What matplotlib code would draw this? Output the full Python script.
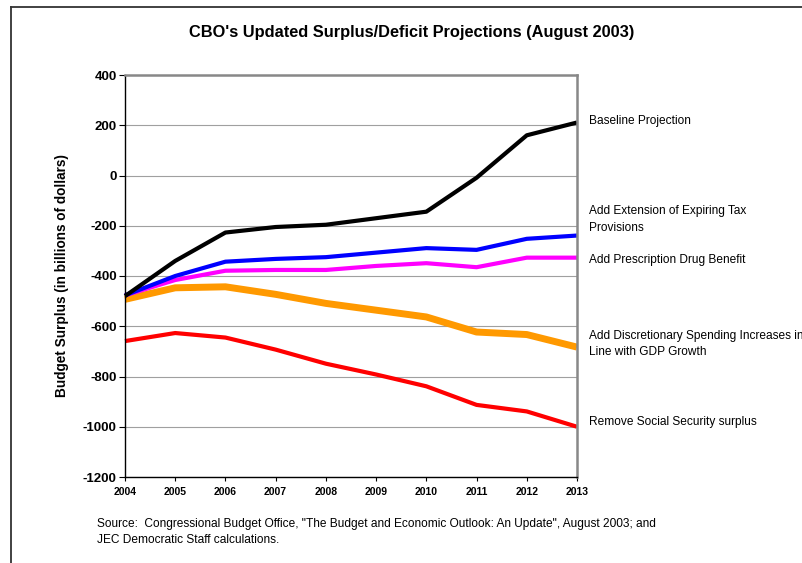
import matplotlib
matplotlib.use("Agg")
import matplotlib.pyplot as plt
import matplotlib.transforms as mtransforms

plt.rcParams['font.family'] = ['Liberation Sans', 'DejaVu Sans']

years = [2004, 2005, 2006, 2007, 2008, 2009, 2010, 2011, 2012, 2013]
baseline = [-480, -340, -227, -205, -196, -170, -144, -9, 160, 211]
tax_ext = [-477, -400, -343, -332, -325, -307, -289, -296, -252, -239]
drug = [-477, -416, -379, -376, -376, -360, -349, -365, -327, -327]
discretionary = [-493, -447, -443, -473, -509, -536, -563, -623, -633, -683]
social_sec = [-659, -627, -645, -693, -749, -792, -839, -913, -939, -1000]

series_labels = ["Baseline Projection",
                 "Add Extension of Expiring Tax\nProvisions",
                 "Add Prescription Drug Benefit",
                 "Add Discretionary Spending Increases in\nLine with GDP Growth",
                 "Remove Social Security surplus"]
label_y = [216, -176, -336, -670, -980]
y_ticks = [400, 200, 0, -200, -400, -600, -800, -1000, -1200]

W, H = 803, 563
fig = plt.figure(figsize=(W/100, H/100), dpi=100)
fig.patch.set_facecolor('white')

# outer border (extends off right/bottom)
fig.add_artist(plt.Line2D([11/W, 11/W], [0, 1 - 7/H], color='#333333', lw=1.3, transform=fig.transFigure))
fig.add_artist(plt.Line2D([11/W, 1], [1 - 7/H, 1 - 7/H], color='#333333', lw=1.3, transform=fig.transFigure))

ax = fig.add_axes([125/W, 1 - 477/H, (577-125)/W, (477-75)/H])
ax.set_xlim(2004, 2013)
ax.set_ylim(-1200, 400)
ax.set_yticks(y_ticks)
ax.set_yticklabels([str(v) for v in y_ticks])
ax.set_xticks(years)
ax.set_xticklabels([str(y) for y in years])
ax.grid(axis='y', color='#a0a0a0', lw=0.8)
ax.set_axisbelow(True)

for s in ['top', 'right']:
    ax.spines[s].set_color('#888888')
    ax.spines[s].set_linewidth(1.8)
for s in ['left', 'bottom']:
    ax.spines[s].set_color('black')
    ax.spines[s].set_linewidth(1.0)

ax.tick_params(axis='y', direction='out', length=4, width=0.8, labelsize=9.5, pad=2)
ax.tick_params(axis='x', direction='out', length=3, width=0.8, labelsize=7.5, pad=4)
for t in ax.get_yticklabels() + ax.get_xticklabels():
    t.set_fontweight('bold')

ax.plot(years, social_sec, color='#ff0000', lw=3, solid_capstyle='butt', clip_on=False)
ax.plot(years, discretionary, color='#ff9900', lw=5, solid_capstyle='butt', clip_on=False)
ax.plot(years, drug, color='#ff00ff', lw=3, solid_capstyle='butt', clip_on=False)
ax.plot(years, tax_ext, color='#0000ff', lw=3, solid_capstyle='butt', clip_on=False)
ax.plot(years, baseline, color='black', lw=3, solid_capstyle='butt', clip_on=False)

trans = mtransforms.blended_transform_factory(ax.transAxes, ax.transData)
for lab, yv in zip(series_labels, label_y):
    ax.text(1.027, yv, lab, transform=trans, fontsize=8.6, va='center', ha='left',
            linespacing=1.5, clip_on=False)

ax.set_ylabel("Budget Surplus (in billions of dollars)", fontsize=9.8, fontweight='bold', labelpad=10)

fig.text(412/W, 1 - 33/H, "CBO's Updated Surplus/Deficit Projections (August 2003)",
         ha='center', va='center', fontsize=11.8, fontweight='bold')
fig.text(97/W, 1 - 532/H,
         'Source:  Congressional Budget Office, "The Budget and Economic Outlook: An Update", August 2003; and\nJEC Democratic Staff calculations.',
         ha='left', va='center', fontsize=8.6, linespacing=1.5)

fig.savefig('out.png', dpi=100)
